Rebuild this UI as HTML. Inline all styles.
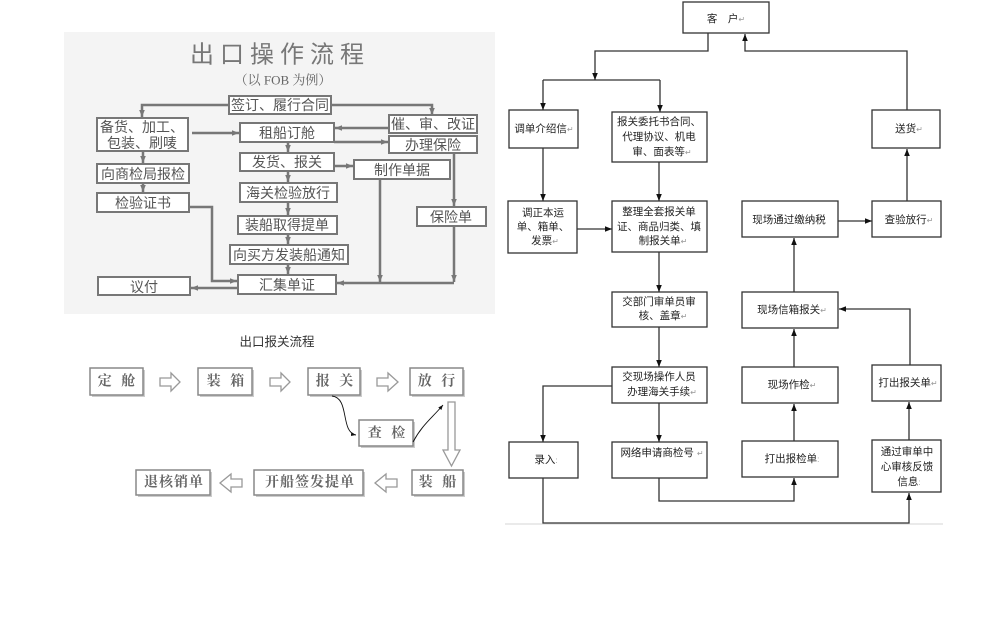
<!DOCTYPE html>
<html><head><meta charset="utf-8">
<style>
html,body{margin:0;padding:0;background:#fff;}
svg{display:block;}
.lt{font-family:"Liberation Sans","Noto Sans CJK SC",sans-serif;fill:#555;font-size:14px;}
.bl{font-family:"Liberation Serif","Noto Serif CJK SC",serif;fill:#666;font-size:14px;font-weight:bold;letter-spacing:3px;}
.rt{font-family:"Liberation Sans","Noto Sans CJK SC",sans-serif;fill:#222;font-size:10.5px;}
.pm{fill:#999;font-size:8px;}
</style></head>
<body>
<svg width="1000" height="631" viewBox="0 0 1000 631" xmlns="http://www.w3.org/2000/svg">
<defs>
<marker id="ag" viewBox="0 0 10 10" refX="10" refY="5" markerWidth="8" markerHeight="7" orient="auto" markerUnits="userSpaceOnUse"><path d="M0,1 L10,5 L0,9 z" fill="#777"/></marker>
<marker id="ab" viewBox="0 0 10 10" refX="10" refY="5" markerWidth="7" markerHeight="7" orient="auto" markerUnits="userSpaceOnUse"><path d="M0,1 L10,5 L0,9 z" fill="#111"/></marker>
<marker id="ac" viewBox="0 0 10 10" refX="10" refY="5" markerWidth="5" markerHeight="5" orient="auto" markerUnits="userSpaceOnUse"><path d="M0,1 L10,5 L0,9 z" fill="#111"/></marker>
</defs>
<rect width="1000" height="631" fill="#fff"/>

<!-- ============ LEFT TOP CHART ============ -->
<rect x="64" y="32" width="431" height="282" fill="#f4f4f4"/>
<text x="280" y="55" text-anchor="middle" dominant-baseline="central" style="font-family:'Liberation Sans','Noto Sans CJK SC',sans-serif;font-size:24px;fill:#777;letter-spacing:6px;">出口操作流程</text>
<text x="283" y="80" text-anchor="middle" dominant-baseline="central" style="font-family:'Liberation Serif','Noto Serif CJK SC',serif;font-size:13px;fill:#666;">（以 FOB 为例）</text>

<g stroke="#777" stroke-width="2.5" fill="none">
  <!-- top distribution -->
  <path d="M229 105 H142 V117" marker-end="url(#ag)"/>
  <path d="M331 105 H432 V115" marker-end="url(#ag)"/>
  <path d="M192 133 H239" marker-end="url(#ag)"/>
  <path d="M389 128 H335" marker-end="url(#ag)"/>
  <path d="M334 142 H388" marker-end="url(#ag)"/>
  <path d="M334 166 H353" marker-end="url(#ag)"/>
  <path d="M143 151 V163" marker-end="url(#ag)"/>
  <path d="M143 183 V192" marker-end="url(#ag)"/>
  <path d="M288 142 V152" marker-end="url(#ag)"/>
  <path d="M288 171 V182" marker-end="url(#ag)"/>
  <path d="M288 202 V215" marker-end="url(#ag)"/>
  <path d="M288 234 V244" marker-end="url(#ag)"/>
  <path d="M288 264 V274" marker-end="url(#ag)"/>
  <path d="M189 207 H212 V281 H237" marker-end="url(#ag)"/>
  <path d="M238 288 H191" marker-end="url(#ag)"/>
  <path d="M454 153 V206" marker-end="url(#ag)"/>
  <path d="M454 226 V282" marker-end="url(#ag)"/>
  <path d="M380 179 V282" marker-end="url(#ag)"/>
  <path d="M454 283 H337" marker-end="url(#ag)"/>
</g>

<g fill="#fff" stroke="#777" stroke-width="2">
  <rect x="229" y="96" width="102" height="18"/>
  <rect x="97" y="118" width="91" height="33"/>
  <rect x="240" y="123" width="94" height="19"/>
  <rect x="389" y="115" width="88" height="18"/>
  <rect x="389" y="136" width="88" height="17"/>
  <rect x="240" y="153" width="94" height="18"/>
  <rect x="354" y="160" width="96" height="19"/>
  <rect x="97" y="164" width="92" height="19"/>
  <rect x="97" y="193" width="92" height="19"/>
  <rect x="240" y="183" width="97" height="19"/>
  <rect x="238" y="216" width="99" height="18"/>
  <rect x="230" y="245" width="118" height="19"/>
  <rect x="238" y="275" width="98" height="19"/>
  <rect x="98" y="277" width="92" height="18"/>
  <rect x="417" y="207" width="69" height="19"/>
</g>
<g class="lt" text-anchor="middle" dominant-baseline="central">
  <text x="280" y="105">签订、履行合同</text>
  <text x="142" y="127">备货、加工、</text>
  <text x="142" y="143">包装、刷唛</text>
  <text x="287" y="133">租船订舱</text>
  <text x="433" y="124">催、审、改证</text>
  <text x="433" y="145">办理保险</text>
  <text x="287" y="162">发货、报关</text>
  <text x="402" y="170">制作单据</text>
  <text x="143" y="174">向商检局报检</text>
  <text x="143" y="203">检验证书</text>
  <text x="288" y="193">海关检验放行</text>
  <text x="287" y="225">装船取得提单</text>
  <text x="289" y="255">向买方发装船通知</text>
  <text x="287" y="285">汇集单证</text>
  <text x="144" y="287">议付</text>
  <text x="451" y="217">保险单</text>
</g>

<!-- ============ LEFT BOTTOM CHART ============ -->
<text x="277" y="342" text-anchor="middle" dominant-baseline="central" style="font-family:'Liberation Sans','Noto Sans CJK SC',sans-serif;font-size:12.5px;fill:#333;">出口报关流程</text>
<g fill="#ccc">
  <rect x="92" y="370" width="53" height="27"/>
  <rect x="200" y="370" width="54" height="27"/>
  <rect x="310" y="370" width="52" height="27"/>
  <rect x="412" y="370" width="53" height="27"/>
  <rect x="361" y="422" width="54" height="26"/>
  <rect x="414" y="472" width="51" height="25"/>
  <rect x="256" y="472" width="109" height="25"/>
  <rect x="138" y="472" width="74" height="25"/>
</g>
<g fill="#fff" stroke="#888" stroke-width="1.5">
  <rect x="90" y="368" width="53" height="27"/>
  <rect x="198" y="368" width="54" height="27"/>
  <rect x="308" y="368" width="52" height="27"/>
  <rect x="410" y="368" width="53" height="27"/>
  <rect x="359" y="420" width="54" height="26"/>
  <rect x="412" y="470" width="51" height="25"/>
  <rect x="254" y="470" width="109" height="25"/>
  <rect x="136" y="470" width="74" height="25"/>
</g>
<g class="bl" text-anchor="middle" dominant-baseline="central">
  <text x="118" y="382">定 舱</text>
  <text x="227" y="382">装 箱</text>
  <text x="336" y="382">报 关</text>
  <text x="438" y="382">放 行</text>
  <text x="388" y="434">查 检</text>
  <text x="439" y="483">装 船</text>
  <text x="310" y="483" style="letter-spacing:1px">开船签发提单</text>
  <text x="174" y="483" style="letter-spacing:1px">退核销单</text>
</g>
<g fill="#fff" stroke="#999" stroke-width="1.3">
  <polygon points="160,378 171,378 171,373 180,382 171,391 171,386 160,386"/>
  <polygon points="270,378 281,378 281,373 290,382 281,391 281,386 270,386"/>
  <polygon points="377,378 388,378 388,373 398,382 388,391 388,386 377,386"/>
  <polygon points="397,479 386,479 386,474 375,483 386,492 386,487 397,487"/>
  <polygon points="242,479 231,479 231,474 220,483 231,492 231,487 242,487"/>
  <polygon points="448,402 455,402 455,450 460,450 451.5,466 443,450 448,450"/>
</g>
<g stroke="#111" stroke-width="0.9" fill="none">
  <path d="M332 396 C350 398 340 432 356 435" marker-end="url(#ac)"/>
  <path d="M413 442 C422 425 432 418 443 405" marker-end="url(#ac)"/>
</g>

<!-- ============ RIGHT CHART ============ -->
<line x1="505" y1="524" x2="943" y2="524" stroke="#e4e4e4" stroke-width="1.5"/>
<g stroke="#333" stroke-width="1.3" fill="none">
  <path d="M708 33 V51 H595 V80" marker-end="url(#ab)"/>
  <path d="M543 80 H660"/>
  <path d="M543 80 V110" marker-end="url(#ab)"/>
  <path d="M660 80 V112" marker-end="url(#ab)"/>
  <path d="M907 110 V51 H745 V34" marker-end="url(#ab)"/>
  <path d="M543 148 V201" marker-end="url(#ab)"/>
  <path d="M659 162 V201" marker-end="url(#ab)"/>
  <path d="M577 229 H612" marker-end="url(#ab)"/>
  <path d="M659 252 V292" marker-end="url(#ab)"/>
  <path d="M659 327 V367" marker-end="url(#ab)"/>
  <path d="M838 221 H872" marker-end="url(#ab)"/>
  <path d="M907 201 V149" marker-end="url(#ab)"/>
  <path d="M794 292 V238" marker-end="url(#ab)"/>
  <path d="M910 365 V309 H839" marker-end="url(#ab)"/>
  <path d="M612 386 H543 V442" marker-end="url(#ab)"/>
  <path d="M659 403 V442" marker-end="url(#ab)"/>
  <path d="M659 478 V501 H794 V478" marker-end="url(#ab)"/>
  <path d="M794 441 V404" marker-end="url(#ab)"/>
  <path d="M794 367 V329" marker-end="url(#ab)"/>
  <path d="M909 440 V402" marker-end="url(#ab)"/>
  <path d="M543 478 V523 H909 V493" marker-end="url(#ab)"/>
</g>
<g fill="#fff" stroke="#333" stroke-width="1.3">
  <rect x="683" y="2" width="86" height="31"/>
  <rect x="509" y="110" width="69" height="38"/>
  <rect x="612" y="112" width="95" height="50"/>
  <rect x="872" y="110" width="68" height="38"/>
  <rect x="508" y="201" width="69" height="52"/>
  <rect x="612" y="201" width="95" height="51"/>
  <rect x="742" y="201" width="96" height="36"/>
  <rect x="872" y="201" width="69" height="36"/>
  <rect x="612" y="292" width="95" height="35"/>
  <rect x="742" y="292" width="96" height="36"/>
  <rect x="612" y="367" width="95" height="36"/>
  <rect x="742" y="367" width="96" height="36"/>
  <rect x="872" y="365" width="69" height="36"/>
  <rect x="509" y="442" width="69" height="36"/>
  <rect x="612" y="442" width="95" height="36"/>
  <rect x="742" y="441" width="96" height="36"/>
  <rect x="872" y="440" width="69" height="52"/>
</g>
<g class="rt" text-anchor="middle" dominant-baseline="central">
  <text x="726" y="19">客　户<tspan class="pm">↵</tspan></text>
  <text x="544" y="129">调单介绍信<tspan class="pm">↵</tspan></text>
  <text x="659" y="122">报关委托书合同、</text>
  <text x="659" y="137">代理协议、机电</text>
  <text x="662" y="152">审、面表等<tspan class="pm">↵</tspan></text>
  <text x="909" y="129">送货<tspan class="pm">↵</tspan></text>
  <text x="543" y="213">调正本运</text>
  <text x="543" y="227">单、箱单、</text>
  <text x="545" y="241">发票<tspan class="pm">↵</tspan></text>
  <text x="659" y="212">整理全套报关单</text>
  <text x="659" y="227">证、商品归类、填</text>
  <text x="663" y="241">制报关单<tspan class="pm">↵</tspan></text>
  <text x="789" y="220">现场通过缴纳税</text>
  <text x="909" y="220">查验放行<tspan class="pm">↵</tspan></text>
  <text x="659" y="302">交部门审单员审</text>
  <text x="663" y="316">核、盖章<tspan class="pm">↵</tspan></text>
  <text x="792" y="310">现场信箱报关<tspan class="pm">↵</tspan></text>
  <text x="659" y="377">交现场操作人员</text>
  <text x="662" y="392">办理海关手续<tspan class="pm">↵</tspan></text>
  <text x="792" y="385">现场作检<tspan class="pm">↵</tspan></text>
  <text x="908" y="383">打出报关单<tspan class="pm">↵</tspan></text>
  <text x="546" y="460">录入<tspan class="pm">:</tspan></text>
  <text x="662" y="453">网络申请商检号 <tspan class="pm">↵</tspan></text>
  <text x="792" y="459">打出报检单<tspan class="pm">:</tspan></text>
  <text x="907" y="452">通过审单中</text>
  <text x="907" y="467">心审核反馈</text>
  <text x="909" y="482">信息<tspan class="pm">:</tspan></text>
</g>
</svg>
</body></html>
